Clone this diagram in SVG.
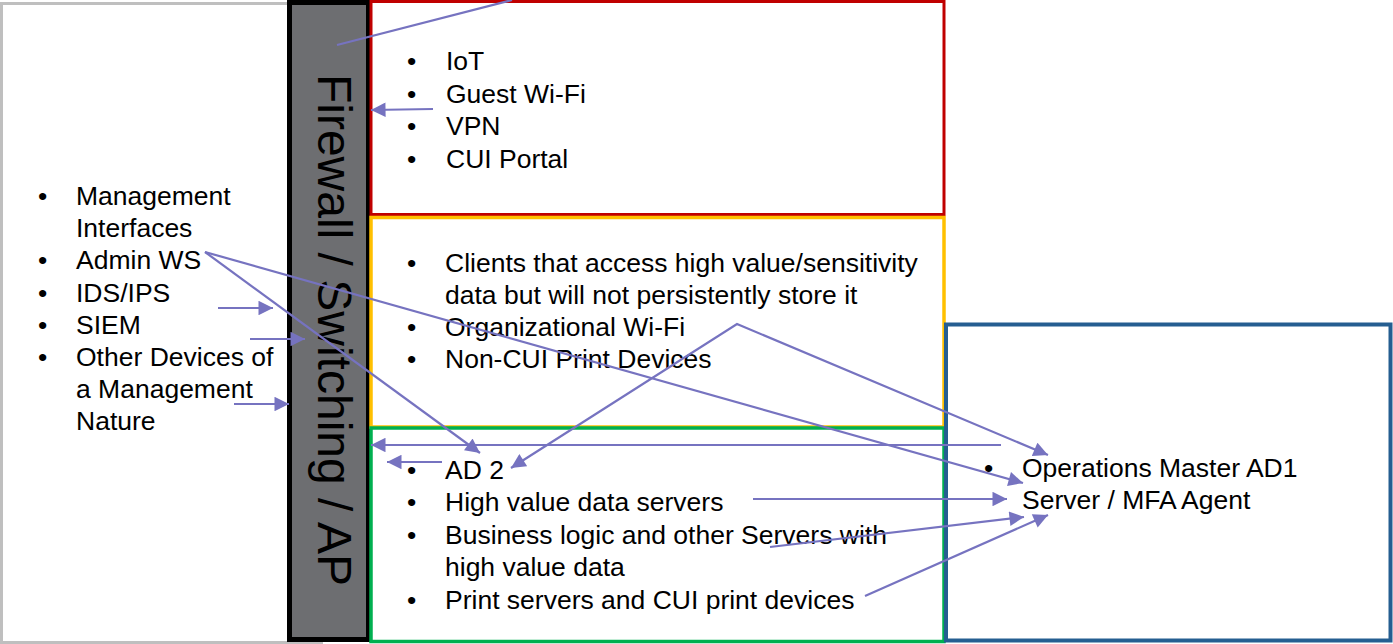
<svg xmlns="http://www.w3.org/2000/svg" width="1393" height="644" viewBox="0 0 1393 644">
<style>
.t{font-family:"Liberation Sans",Arial,sans-serif;font-size:26.5px;fill:#000}
.fw{font-family:"Liberation Sans",Arial,sans-serif;font-size:48px;fill:#000}
.c{fill:none;stroke:#7673c0;stroke-width:2.2}
</style>
<defs>
<marker id="ah" viewBox="0 0 10 10" refX="10" refY="5" markerWidth="7" markerHeight="6.6" markerUnits="strokeWidth" orient="auto-start-reverse">
<path d="M0,0 L10,5 L0,10 z" fill="#7673c0"/>
</marker>
</defs>
<rect width="1393" height="644" fill="#fff"/>
<g id="mgmt">
<rect x="1.5" y="3.5" width="320" height="639" fill="#fff" stroke="#bfbfbf" stroke-width="3"/>
<text class="t" x="38" y="205">•</text><text class="t" x="76" y="205">Management</text>
<text class="t" x="76" y="237">Interfaces</text>
<text class="t" x="38" y="269">•</text><text class="t" x="76" y="269">Admin WS</text>
<text class="t" x="38" y="302">•</text><text class="t" x="76" y="302">IDS/IPS</text>
<text class="t" x="38" y="334">•</text><text class="t" x="76" y="334">SIEM</text>
<text class="t" x="38" y="366">•</text><text class="t" x="76" y="366">Other Devices of</text>
<text class="t" x="76" y="398">a Management</text>
<text class="t" x="76" y="430">Nature</text>
</g>
<g id="firewall">
<rect x="289.5" y="2.5" width="79" height="637" fill="#6d6e71" stroke="#000" stroke-width="5"/>
<text class="fw" transform="translate(318,330) rotate(90)" text-anchor="middle">Firewall / Switching / AP</text>
</g>
<g id="red-zone">
<rect x="371" y="1.5" width="573" height="213" fill="#fff" stroke="#c00000" stroke-width="3"/>
<text class="t" x="407" y="70">•</text><text class="t" x="446" y="70">IoT</text>
<text class="t" x="407" y="103">•</text><text class="t" x="446" y="103">Guest Wi-Fi</text>
<text class="t" x="407" y="135">•</text><text class="t" x="446" y="135">VPN</text>
<text class="t" x="407" y="168">•</text><text class="t" x="446" y="168">CUI Portal</text>
</g>
<g id="yellow-zone">
<rect x="371" y="217.5" width="573" height="209.5" fill="#fff" stroke="#ffc000" stroke-width="3.5"/>
<text class="t" x="407" y="272">•</text><text class="t" x="445" y="272">Clients that access high value/sensitivity</text>
<text class="t" x="445" y="304">data but will not persistently store it</text>
<text class="t" x="407" y="336">•</text><text class="t" x="445" y="336">Organizational Wi-Fi</text>
<text class="t" x="407" y="368">•</text><text class="t" x="445" y="368">Non-CUI Print Devices</text>
</g>
<g id="green-zone">
<rect x="371" y="428" width="573" height="213.5" fill="#fff" stroke="#00b050" stroke-width="3.5"/>
<text class="t" x="407" y="479">•</text><text class="t" x="445" y="479">AD 2</text>
<text class="t" x="407" y="511">•</text><text class="t" x="445" y="511">High value data servers</text>
<text class="t" x="407" y="544">•</text><text class="t" x="445" y="544">Business logic and other Servers with</text>
<text class="t" x="445" y="576">high value data</text>
<text class="t" x="407" y="609">•</text><text class="t" x="445" y="609">Print servers and CUI print devices</text>
</g>
<g id="blue-zone">
<rect x="946" y="324.5" width="444.5" height="316" fill="#fff" stroke="#255e91" stroke-width="4"/>
<text class="t" x="984" y="477">•</text><text class="t" x="1022" y="477">Operations Master AD1</text>
<text class="t" x="1022" y="509">Server / MFA Agent</text>
</g>
<g id="connectors">
<line class="c" x1="337" y1="45" x2="512" y2="0"/>
<line class="c" x1="433" y1="109" x2="371" y2="110" marker-end="url(#ah)"/>
<line class="c" x1="205" y1="252" x2="480" y2="453" marker-end="url(#ah)"/>
<line class="c" x1="205" y1="252" x2="1023" y2="483" marker-end="url(#ah)"/>
<polyline class="c" points="511,468 737,324 1048,455" marker-start="url(#ah)" marker-end="url(#ah)"/>
<line class="c" x1="1001" y1="445" x2="371" y2="445" marker-end="url(#ah)"/>
<line class="c" x1="442" y1="462" x2="387" y2="462" marker-end="url(#ah)"/>
<line class="c" x1="218" y1="308" x2="273" y2="308" marker-end="url(#ah)"/>
<line class="c" x1="250" y1="339" x2="305" y2="339" marker-end="url(#ah)"/>
<line class="c" x1="234" y1="404" x2="289" y2="404" marker-end="url(#ah)"/>
<line class="c" x1="753" y1="499" x2="1007" y2="499" marker-end="url(#ah)"/>
<line class="c" x1="770" y1="547" x2="1024" y2="517" marker-end="url(#ah)"/>
<line class="c" x1="865" y1="596" x2="1048" y2="515" marker-end="url(#ah)"/>
</g>
</svg>
